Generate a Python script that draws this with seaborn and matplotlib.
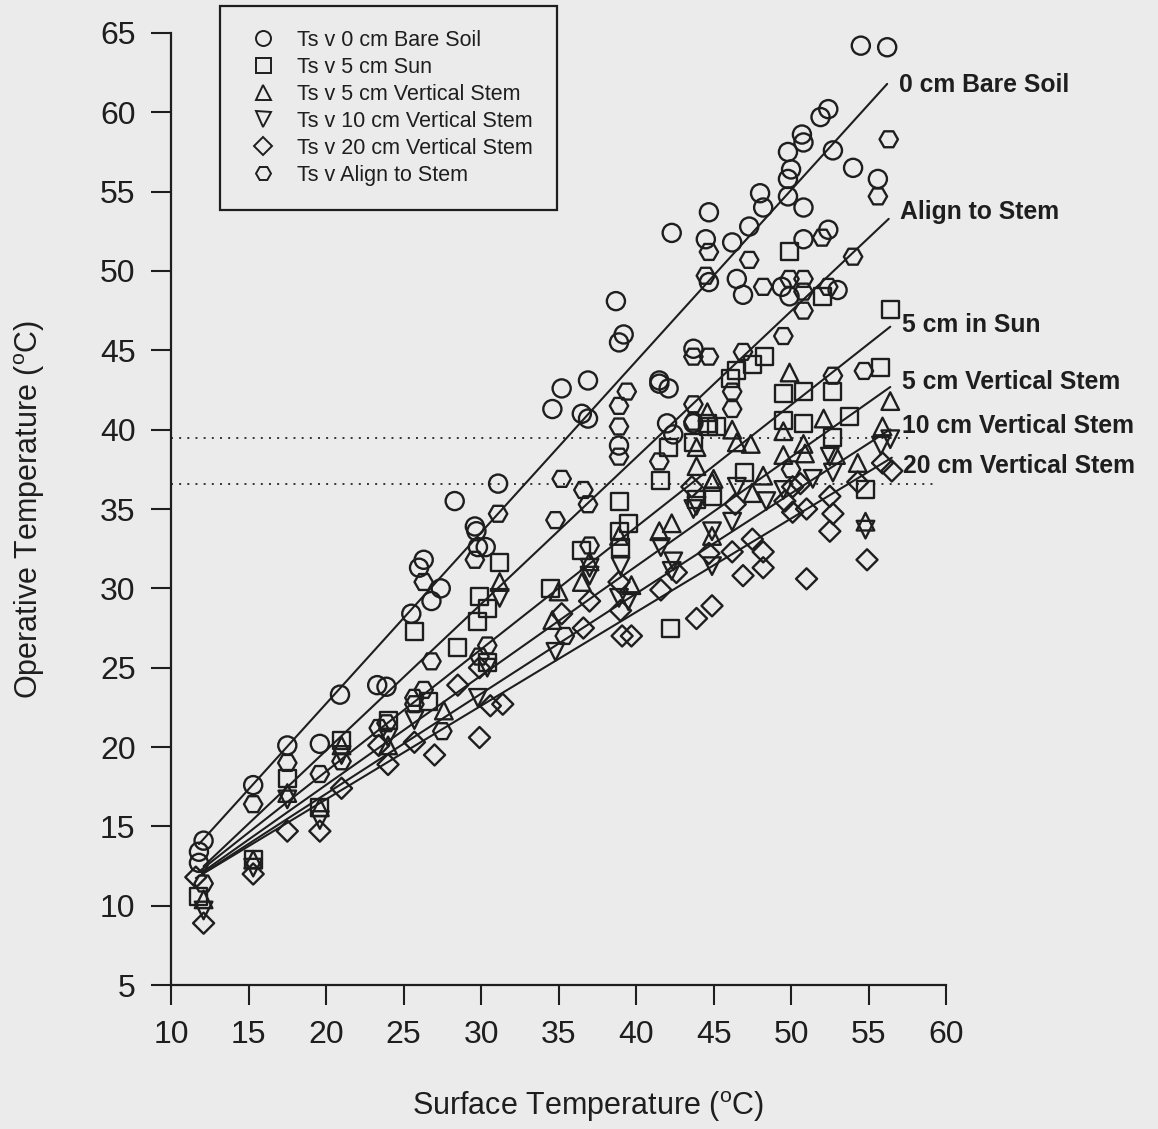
import numpy as np
import pandas as pd
import matplotlib
matplotlib.use("Agg")
import matplotlib.pyplot as plt
from matplotlib.lines import Line2D
import seaborn as sns

# ---------------------------------------------------------------- data
# Surface temperature (x) vs operative temperature (y), deg C

bare_x = [12.1, 11.8, 11.8, 15.3, 17.5, 19.6, 20.9, 23.3, 23.9, 25.5, 26.0, 26.3,
          26.8, 27.4, 28.3, 29.6, 29.7, 29.8, 30.3, 31.1, 34.6, 35.2, 36.5, 36.9,
          36.9, 38.7, 38.9, 39.2, 38.9, 41.5, 41.5, 42.1, 42.0, 43.7, 42.4, 42.3,
          43.7, 44.5, 44.7, 46.2, 47.3, 46.5, 46.9, 44.7, 48.0, 48.2, 49.4, 49.8,
          50.0, 49.8, 49.8, 50.8, 50.8, 50.7, 50.8, 49.9, 51.9, 52.4, 52.7, 52.4,
          53.0, 54.0, 55.6, 54.5, 56.2]
bare_y = [14.1, 13.4, 12.7, 17.6, 20.1, 20.2, 23.3, 23.9, 23.8, 28.4, 31.3, 31.8,
          29.2, 30.0, 35.5, 33.9, 33.6, 32.6, 32.6, 36.6, 41.3, 42.6, 41.0, 40.7,
          43.1, 48.1, 45.5, 46.0, 39.0, 43.1, 42.9, 42.6, 40.4, 40.4, 39.7, 52.4,
          45.1, 52.0, 53.7, 51.8, 52.8, 49.5, 48.5, 49.3, 54.9, 54.0, 49.0, 57.5,
          56.4, 55.8, 54.7, 54.0, 52.0, 58.6, 58.1, 48.4, 59.7, 60.2, 57.6, 52.6,
          48.8, 56.5, 55.8, 64.2, 64.1]

sun_x = [11.8, 15.3, 17.5, 19.6, 21.0, 24.0, 25.7, 26.6, 28.5, 29.9, 30.4, 29.8,
         30.4, 31.2, 34.5, 36.5, 38.9, 39.5, 38.9, 39.0, 41.6, 42.1, 42.2, 43.7,
         44.6, 45.2, 44.7, 44.9, 43.9, 46.5, 46.1, 47.0, 48.3, 47.5, 49.9, 49.5,
         49.5, 50.8, 50.8, 52.0, 52.7, 52.7, 53.8, 54.8, 55.8, 56.4]
sun_y = [10.6, 12.9, 18.0, 16.2, 20.4, 21.7, 27.3, 22.9, 26.3, 29.5, 28.7, 27.9,
         25.3, 31.6, 30.0, 32.4, 35.5, 34.1, 33.6, 32.6, 36.8, 38.9, 27.5, 39.2,
         40.4, 40.2, 40.2, 35.8, 35.6, 43.7, 43.2, 37.3, 44.6, 44.1, 51.2, 42.3,
         40.6, 40.4, 42.4, 48.4, 42.4, 39.5, 40.8, 36.2, 43.9, 47.6]

vs5_x = [12.1, 15.3, 17.5, 19.6, 21.0, 24.0, 27.6, 31.2, 35.0, 36.5, 37.0, 34.6,
         38.9, 39.7, 41.5, 42.3, 43.9, 43.9, 44.6, 44.9, 45.0, 44.9, 46.2, 46.5,
         47.4, 47.5, 48.2, 49.5, 49.5, 49.9, 50.8, 50.9, 52.1, 52.9, 54.3, 54.8,
         55.9, 56.4]
vs5_y = [10.4, 12.9, 17.1, 16.2, 20.1, 20.1, 22.3, 30.4, 29.8, 30.4, 31.7, 28.0,
         33.3, 30.2, 33.6, 34.1, 37.7, 38.9, 41.1, 36.7, 36.9, 33.3, 40.0, 39.2,
         39.1, 36.0, 37.1, 39.9, 38.4, 43.6, 39.1, 38.5, 40.7, 38.4, 37.9, 34.2,
         40.2, 41.8]

vs10_x = [12.1, 15.3, 17.5, 19.6, 21.0, 24.0, 25.7, 29.8, 30.4, 31.2, 34.8, 37.0,
          37.0, 39.0, 38.9, 39.5, 41.6, 42.3, 42.4, 43.9, 43.7, 44.9, 44.9, 46.2,
          46.5, 48.4, 49.5, 51.4, 52.5, 52.7, 54.8, 55.8, 56.4]
vs10_y = [9.7, 12.4, 16.7, 15.4, 19.5, 20.6, 21.7, 23.1, 25.0, 29.4, 26.0, 31.3,
          30.8, 31.4, 29.4, 29.2, 32.6, 31.1, 31.7, 35.2, 35.0, 33.6, 31.4, 34.2,
          36.4, 35.5, 36.2, 36.9, 38.3, 37.3, 33.7, 39.0, 39.4]

vs20_x = [11.6, 12.1, 15.3, 17.5, 19.6, 21.0, 23.4, 24.0, 25.7, 27.0, 28.5, 29.9,
          29.9, 30.6, 31.4, 35.2, 37.0, 36.6, 38.9, 39.0, 39.1, 39.7, 41.6, 42.6,
          43.6, 43.9, 44.9, 44.7, 46.2, 46.9, 46.4, 47.5, 48.2, 48.2, 50.1, 50.6,
          49.6, 50.1, 51.0, 51.0, 52.5, 52.7, 52.5, 54.3, 54.9, 55.9, 56.5]
vs20_y = [11.8, 8.9, 12.0, 14.7, 14.7, 17.4, 20.1, 18.9, 20.3, 19.5, 23.9, 25.0,
          20.6, 22.6, 22.7, 28.4, 29.2, 27.5, 30.4, 28.6, 27.0, 27.0, 29.9, 31.0,
          36.4, 28.1, 28.9, 32.2, 32.3, 30.8, 35.3, 33.1, 32.3, 31.3, 36.4, 36.6,
          35.5, 34.8, 35.0, 30.6, 35.8, 34.7, 33.6, 36.7, 31.8, 37.9, 37.4]

align_x = [12.1, 15.3, 17.5, 19.6, 21.0, 23.9, 23.4, 25.7, 26.3, 25.7, 27.5, 26.8,
           29.6, 26.3, 29.9, 30.4, 31.1, 34.8, 35.2, 36.6, 36.9, 37.0, 35.4, 38.9,
           39.4, 38.9, 38.9, 41.5, 43.7, 43.7, 44.5, 44.7, 44.7, 43.7, 46.9, 46.2,
           46.2, 47.3, 48.2, 49.5, 49.9, 50.8, 50.8, 50.8, 50.0, 52.0, 52.4, 52.7,
           54.0, 54.7, 55.6, 56.3]
align_y = [11.4, 16.4, 19.0, 18.3, 19.1, 21.5, 21.2, 23.1, 23.6, 22.7, 21.0, 25.4,
           31.8, 30.4, 25.7, 26.4, 34.7, 34.3, 36.9, 36.2, 35.3, 32.7, 27.0, 40.2,
           42.4, 41.5, 38.3, 38.0, 41.6, 40.5, 49.7, 51.2, 44.6, 44.6, 44.9, 42.4,
           41.3, 50.7, 49.0, 45.9, 49.5, 49.5, 48.7, 47.5, 37.5, 52.1, 49.0, 43.4,
           50.9, 43.7, 54.7, 58.3]

# Fitted lines (slope, intercept) and their right-hand labels
fit_names = ["0 cm Bare Soil", "Align to Stem", "5 cm in Sun",
             "5 cm Vertical Stem", "10 cm Vertical Stem", "20 cm Vertical Stem"]
fit_slope = [1.079, 0.923, 0.770, 0.689, 0.631, 0.590]
fit_intercept = [1.15, 1.32, 3.06, 3.83, 4.43, 4.90]
label_y = [61.7, 53.7, 46.6, 43.0, 40.2, 37.7]

# Horizontal reference levels (dotted)
ref_levels = [39.5, 36.6]
ref_end = [57.8, 59.4]

legend_labels = ["Ts v 0 cm Bare Soil", "Ts v 5 cm Sun", "Ts v 5 cm Vertical Stem",
                 "Ts v 10 cm Vertical Stem", "Ts v 20 cm Vertical Stem",
                 "Ts v Align to Stem"]

x_ticks = [10, 15, 20, 25, 30, 35, 40, 45, 50, 55, 60]
y_ticks = [5, 10, 15, 20, 25, 30, 35, 40, 45, 50, 55, 60, 65]

# ---------------------------------------------------------------- style
sns.set_theme(style="ticks")
plt.rcParams["font.family"] = ["Liberation Sans", "DejaVu Sans"]
plt.rcParams["mathtext.fontset"] = "custom"
plt.rcParams["mathtext.rm"] = "Liberation Sans"
plt.rcParams["mathtext.it"] = "Liberation Sans:italic"

BG = "#ebebeb"
INK = "#1e1e1e"

fig = plt.figure(figsize=(11.58, 11.29), dpi=100, facecolor=BG)
ax = fig.add_axes([0.1477, 0.1275, 0.6693, 0.8433])
ax.set_facecolor(BG)

series = [
    (bare_x, bare_y, "o", 0),
    (align_x, align_y, "H", 1),
    (sun_x, sun_y, "s", 2),
    (vs5_x, vs5_y, "^", 3),
    (vs10_x, vs10_y, "v", 4),
    (vs20_x, vs20_y, "D", 5),
]
marker_size = {"o": 170, "H": 175, "s": 150, "^": 160, "v": 160, "D": 115}

for xs, ys, mk, fi in series:
    df = pd.DataFrame({"x": xs, "y": ys})
    sns.scatterplot(data=df, x="x", y="y", marker=mk, s=marker_size[mk],
                    facecolors="none", edgecolor=INK, linewidth=1.7,
                    ax=ax, zorder=3, clip_on=False)
    x0, x1 = min(xs), max(xs)
    line = pd.DataFrame({"x": [x0, x1],
                         "y": [fit_intercept[fi] + fit_slope[fi] * x0,
                               fit_intercept[fi] + fit_slope[fi] * x1]})
    sns.lineplot(data=line, x="x", y="y", color=INK, linewidth=1.5,
                 estimator=None, sort=False, ax=ax, zorder=2)
    ax.text(x1 + 0.75, label_y[fi], fit_names[fi], fontsize=17.8,
            fontweight="bold", color=INK, ha="left", va="center",
            clip_on=False)

for lvl, xe in zip(ref_levels, ref_end):
    ax.plot([10, xe], [lvl, lvl], color="#333333", linewidth=1.4,
            linestyle=(0, (1.0, 3.2)), zorder=1, clip_on=False)

# ---------------------------------------------------------------- axes
ax.set_xlim(10, 60)
ax.set_ylim(5, 65)
ax.set_xticks(x_ticks)
ax.set_yticks(y_ticks)
sns.despine(ax=ax)
for sp in ("left", "bottom"):
    ax.spines[sp].set_linewidth(1.6)
    ax.spines[sp].set_color(INK)
ax.tick_params(axis="both", direction="out", length=14.5, width=1.5,
               color=INK, labelsize=23, labelcolor=INK)
ax.tick_params(axis="x", pad=11)
ax.tick_params(axis="y", pad=11)

ax.set_xlabel("Surface Temperature ($^{\\mathrm{o}}$C)", fontsize=22, color=INK)
ax.set_ylabel("Operative Temperature ($^{\\mathrm{o}}$C)", fontsize=22, color=INK)
ax.xaxis.set_label_coords(0.538, -0.128)
ax.xaxis.label.set_verticalalignment("center")
ax.yaxis.set_label_coords(-0.183, 0.50)
ax.yaxis.label.set_verticalalignment("center")

# ---------------------------------------------------------------- legend
handles = [Line2D([], [], linestyle="none", marker=m, markersize=10.8,
                  markerfacecolor="none", markeredgecolor=INK,
                  markeredgewidth=1.4)
           for m in ["o", "s", "^", "v", "D", "H"]]
handles[4].set_markersize(9.0)
leg = ax.legend(handles, legend_labels, loc="upper left",
                bbox_to_anchor=(220 / 1158, 1 - 6 / 1129),
                bbox_transform=fig.transFigure, fontsize=15.5,
                frameon=True, fancybox=False, borderpad=1.1,
                labelspacing=0.28, handlelength=1.8, handletextpad=0.68,
                borderaxespad=0)
frame = leg.get_frame()
frame.set_edgecolor(INK)
frame.set_linewidth(1.6)
frame.set_facecolor(BG)
frame.set_alpha(1)
for t in leg.get_texts():
    t.set_color(INK)

fig.savefig("out.png", dpi=100, facecolor=BG)
